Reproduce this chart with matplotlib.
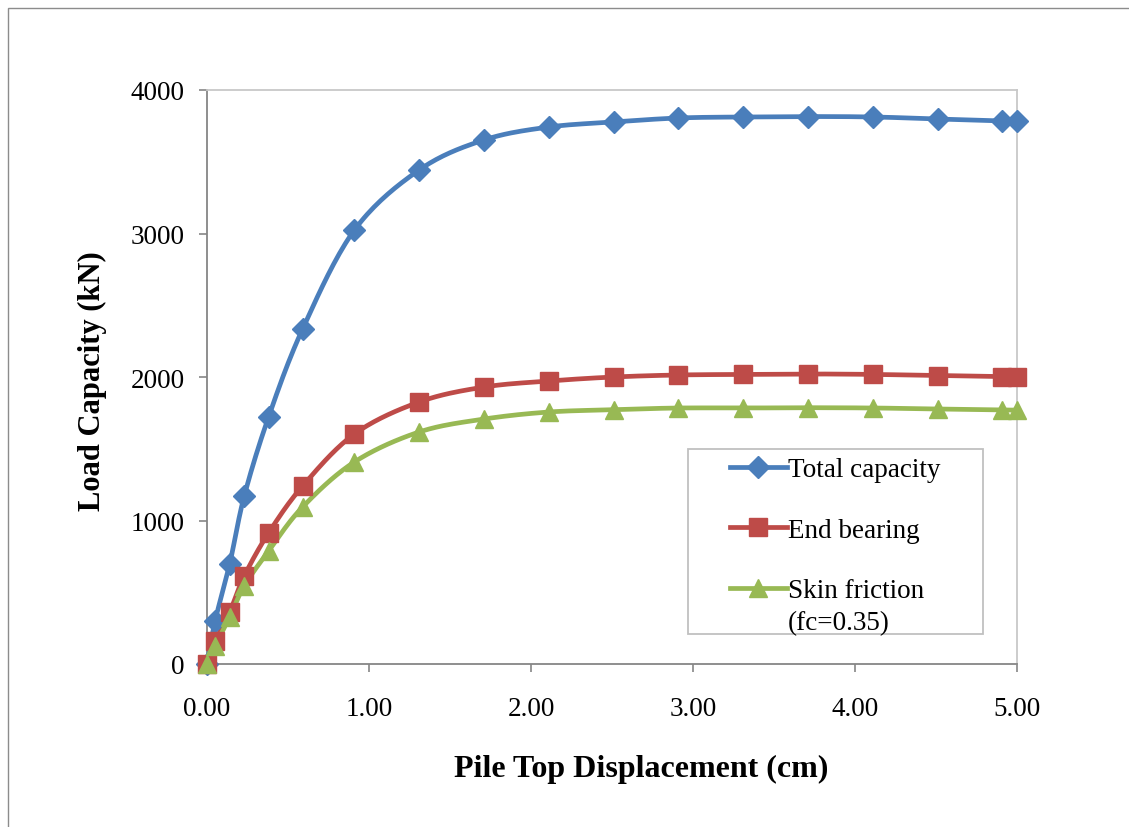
import numpy as np
import matplotlib
matplotlib.use("Agg")
import matplotlib.pyplot as plt
from matplotlib.patches import Rectangle
from matplotlib.lines import Line2D

# ---- data ----
displacement = [0.0, 0.05, 0.14, 0.23, 0.38, 0.59, 0.91, 1.31, 1.71, 2.11,
                2.51, 2.91, 3.31, 3.71, 4.11, 4.51, 4.91, 5.0]
total_capacity = [0, 300, 697, 1171, 1721, 2334, 3024, 3443, 3652, 3742,
                  3777, 3805, 3812, 3815, 3812, 3798, 3784, 3784]
end_bearing = [0, 160, 362, 613, 913, 1240, 1603, 1826, 1930, 1972,
               2000, 2014, 2018, 2021, 2018, 2010, 2002, 2002]
skin_friction = [0, 125, 328, 544, 787, 1094, 1408, 1617, 1707, 1756,
                 1772, 1784, 1784, 1786, 1784, 1777, 1770, 1770]
series_labels = ["Total capacity", "End bearing", "Skin friction"]
legend_note = "(fc=0.35)"
x_ticks = [0, 1, 2, 3, 4, 5]
x_tick_labels = ["0.00", "1.00", "2.00", "3.00", "4.00", "5.00"]
y_ticks = [0, 1000, 2000, 3000, 4000]
x_title = "Pile Top Displacement (cm)"
y_title = "Load Capacity (kN)"

colors = ["#4A7EBB", "#BE4B48", "#98B954"]
markers = ["D", "s", "^"]
msizes = [11.5, 13.5, 13.5]


def smooth(x, y, n=20):
    """Bezier smoothing similar to Excel's smoothed line."""
    x = np.asarray(x, float)
    y = np.asarray(y, float)
    px = np.concatenate([[x[0]], x, [x[-1]]])
    py = np.concatenate([[y[0]], y, [y[-1]]])
    xs, ys = [], []
    t = np.linspace(0, 1, n)
    for i in range(1, len(px) - 2):
        p0, p1, p2, p3 = (np.array([px[j], py[j]]) for j in (i - 1, i, i + 1, i + 2))
        c1 = p1 + (p2 - p0) / 6.0
        c2 = p2 - (p3 - p1) / 6.0
        b = ((1 - t) ** 3)[:, None] * p1 + (3 * (1 - t) ** 2 * t)[:, None] * c1 + \
            (3 * (1 - t) * t ** 2)[:, None] * c2 + (t ** 3)[:, None] * p2
        xs.append(b[:, 0])
        ys.append(b[:, 1])
    return np.concatenate(xs), np.concatenate(ys)


plt.rcParams['font.family'] = ['Liberation Serif', 'DejaVu Serif']

W, H = 1129, 828
fig = plt.figure(figsize=(W / 100, H / 100), dpi=100)
fig.patch.set_facecolor("white")

# outer chart frame (left and top visible)
fig.patches.append(Rectangle((8 / W, -0.5), 2.0, 0.5 + 1 - 9 / H, transform=fig.transFigure,
                             fill=False, edgecolor="#8c8c8c", linewidth=1.0))

AX_L, AX_R, AX_T, AX_B = 207, 1017, 91, 665
ax = fig.add_axes([AX_L / W, 1 - AX_B / H, (AX_R - AX_L) / W, (AX_B - AX_T) / H])


def px_to_ax(xp, yp):
    return (xp - AX_L) / (AX_R - AX_L), (AX_B - yp) / (AX_B - AX_T)


handles = []
for ys, c, m, ms, lab in zip([total_capacity, end_bearing, skin_friction], colors,
                              markers, msizes, series_labels):
    sx, sy = smooth(displacement, ys)
    ax.plot(sx, sy, color=c, lw=3.4, solid_capstyle="round", zorder=3, clip_on=False)
    ax.plot(displacement, ys, linestyle="none", marker=m, markersize=ms, color=c,
            markeredgecolor=c, zorder=4, clip_on=False)
    handles.append(Line2D([0], [0], color=c, lw=3.4, marker=m, markersize=ms * 0.95,
                          markeredgecolor=c, label=lab))

ax.set_xlim(0, 5)
ax.set_ylim(0, 4000)
ax.set_xticks(x_ticks)
ax.set_xticklabels(x_tick_labels)
ax.set_yticks(y_ticks)
ax.tick_params(axis="both", labelsize=19.5, direction="out", length=6, width=1.2,
               color="#868686")
ax.tick_params(axis="x", pad=17)
ax.tick_params(axis="y", pad=10)
for s in ["left", "bottom"]:
    ax.spines[s].set_color("#868686")
    ax.spines[s].set_linewidth(1.3)
for s in ["top", "right"]:
    ax.spines[s].set_color("#c8c8c8")
    ax.spines[s].set_linewidth(1.3)

ax.set_xlabel(x_title, fontsize=23, fontweight="bold")
ax.xaxis.label.set_verticalalignment("center")
ax.xaxis.set_label_coords(*px_to_ax(641, 769))
ax.set_ylabel(y_title, fontsize=22, fontweight="bold")
ax.yaxis.label.set_verticalalignment("center")
ax.yaxis.set_label_coords(*px_to_ax(92, 381))

# legend frame
fx0, fy0 = px_to_ax(688, 635)
fx1, fy1 = px_to_ax(983, 450)
ax.add_patch(Rectangle((fx0, fy0), fx1 - fx0, fy1 - fy0, transform=ax.transAxes,
                       facecolor="white", edgecolor="#c0c0c0", linewidth=1.3, zorder=5))

leg = ax.legend(handles=handles, loc="upper left",
                bbox_to_anchor=px_to_ax(730, 458),
                fontsize=19.5, frameon=False, handlelength=2.1,
                handletextpad=0.05, labelspacing=1.32, borderpad=0, borderaxespad=0)
leg.set_zorder(6)
ax.annotate(legend_note, xy=(0, 0.5), xycoords=leg.get_texts()[2],
            xytext=(0, -23), textcoords="offset points", ha="left", va="center",
            fontsize=19.5, zorder=7)

fig.savefig("out.png", dpi=100, facecolor="white")
